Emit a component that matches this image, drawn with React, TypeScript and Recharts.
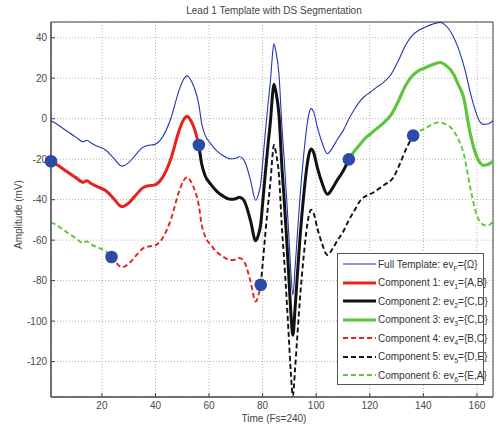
import React from 'react';
import { ComposedChart, Line, Scatter, XAxis, YAxis, CartesianGrid, ReferenceArea } from 'recharts';

// ---- data ----
const xTicks = [20, 40, 60, 80, 100, 120, 140, 160];
const yTicks = [-120, -100, -80, -60, -40, -20, 0, 20, 40];

const fullT = [1, 3, 6.6, 10.3, 13, 14.3, 16, 17.7, 21.5, 23.6, 24.6, 27.4, 30.2, 32.5, 35.1, 37, 39.5, 42.6, 45.7, 48.8, 50.5, 51.9, 53, 54.4, 56.2, 57.2, 58.5, 60.6, 63, 65, 68, 70, 71.2, 72.5, 73.6, 75.5, 77.4, 78.5, 79.3, 80, 81, 82, 83, 83.7, 84.2, 85, 86.1, 87.3, 87.9, 89, 89.8, 90.5, 91.3, 92.1, 92.9, 94, 95.4, 96.3, 97.3, 98.1, 99, 100.4, 102, 104.2, 106, 108, 110, 112.2, 114, 116.5, 118, 120.2, 122, 125.2, 128, 130.8, 133, 135.8, 138, 140.7, 143, 146.3, 148, 151.3, 153, 155.6, 157.5, 159.4, 161.2, 162.5, 164.3, 166];
const fullV = [-1, -2.5, -5.8, -9.1, -11.4, -10.6, -12, -13.2, -15.6, -18.3, -19.8, -23.4, -21.4, -18, -14.3, -13.2, -12.8, -9.1, 0, 14, 19.5, 21.2, 19.5, 15.6, 7, -2, -8, -12.3, -16, -18, -19.8, -19.5, -18.8, -19.5, -22, -30.5, -40.3, -37, -32, -22, -7, 7, 20, 32, 37, 33, 22, -6, -17, -40, -58, -75, -87, -74, -58.5, -38, -17, -6, 2.5, 5, 3.5, -4, -11, -17.3, -14.5, -10, -6, -0.1, 4.1, 9, 11, 13.1, 15, 18.1, 22, 29, 35.5, 41.1, 43.5, 45.2, 46.5, 47.6, 46.5, 40.3, 35, 23.9, 13, 4.1, -1.7, -2.8, -2.5, -1];

const comp1T = [1, 3, 6.6, 10.3, 13, 14.3, 16, 17.7, 21.5, 23.6, 24.6, 27.4, 30.2, 32.5, 35.1, 37, 39.5, 42.6, 45.7, 48.8, 50.5, 51.9, 53, 54.4, 56.2];
const comp1V = [-21, -22.5, -25.8, -29.1, -31.4, -30.6, -32, -33.2, -35.6, -38.3, -39.8, -43.4, -41.4, -38, -34.3, -33.2, -32.8, -29.1, -20, -6, -0.5, 1.2, -0.5, -4.4, -13];

const comp2T = [56.2, 57.2, 58.5, 60.6, 63, 65, 68, 70, 71.2, 72.5, 73.6, 75.5, 77.4, 78.5, 79.3, 80, 81, 82, 83, 83.7, 84.2, 85, 86.1, 87.3, 87.9, 89, 89.8, 90.5, 91.3, 92.1, 92.9, 94, 95.4, 96.3, 97.3, 98.1, 99, 100.4, 102, 104.2, 106, 108, 110, 112.2];
const comp2V = [-13, -22, -28, -32.3, -36, -38, -39.8, -39.5, -38.8, -39.5, -42, -50.5, -60.3, -57, -52, -42, -27, -13, 0, 12, 17, 13, 2, -26, -37, -60, -78.5, -95, -107, -94, -78.5, -58, -37, -26, -17.5, -15, -16.5, -24, -31, -37.3, -34.5, -30, -26, -20.1];

const comp3T = [112.2, 114, 116.5, 118, 120.2, 122, 125.2, 128, 130.8, 133, 135.8, 138, 140.7, 143, 146.3, 148, 151.3, 153, 155, 157.5, 160, 162.5, 164.3, 166];
const comp3V = [-20.1, -16.5, -12.5, -10, -7.5, -5.5, -2, 2, 9, 15.5, 21.1, 23.5, 25.2, 26.5, 27.8, 26.8, 22, 17, 10.7, -7.4, -19, -23, -22.5, -21];

const comp4T = [23.6, 24.6, 27.4, 30.2, 32.5, 35.1, 37, 39.5, 42.6, 45.7, 48.8, 50.5, 51.9, 53, 54.4, 56.2, 57.2, 58.5, 60.6, 63, 65, 68, 70, 71.2, 72.5, 73.6, 75.5, 77.4, 78.5, 79.3];
const comp4V = [-68.3, -69.8, -73.4, -71.4, -68, -64.3, -63.2, -62.8, -59.1, -50, -36, -30.5, -28.8, -30.5, -34.4, -43, -52, -58, -62.3, -66, -68, -69.8, -69.5, -68.8, -69.5, -72, -80.5, -90.3, -87, -82];

const comp5T = [79.3, 80, 81, 82, 83, 83.7, 84.2, 85, 86.1, 87.3, 87.9, 89, 89.8, 90.5, 91.3, 92.1, 92.9, 94, 95.4, 96.3, 97.3, 98.1, 99, 100.4, 102, 104.2, 106, 108, 110, 112.2, 114, 116.5, 121.5, 125.2, 128.9, 131, 133.9, 136.2];
const comp5V = [-82, -72, -57, -43, -30, -18, -13, -17, -28, -56, -67, -90, -108.5, -125, -137, -124, -108.5, -88, -67, -56, -47.5, -45, -46.5, -54, -61, -67.3, -64.5, -60, -56, -50.1, -46, -40.4, -36.3, -32.9, -28.8, -23, -14, -8.3];

const comp6aT = [1, 3, 6.6, 10.3, 13, 14.3, 16, 17.7, 21.5, 23.6];
const comp6aV = [-51, -52.5, -55.8, -59.1, -61.4, -60.6, -62, -63.2, -65.6, -68.3];
const comp6bT = [136.2, 138, 140.7, 143, 145.5, 148, 151.3, 153, 155, 157.5, 159.4, 161.2, 162.5, 164.3, 166];
const comp6bV = [-8.3, -6.5, -4.8, -3, -1.8, -2.5, -6, -10, -17, -34, -45.3, -51, -52.5, -52.7, -50.5];

const markerT = [1, 23.6, 56.2, 79.3, 112.2, 136.2];
const markerV = [-21, -68.3, -13, -82, -20.1, -8.3];

const zip = (t: number[], v: number[]) => t.map((x, i) => ({ t: x, v: v[i] }));

const BLUE = '#2435ad';
const RED = '#e8211d';
const BLACK = '#111111';
const GREEN = '#5fc53d';
const MARK = '#2c4aa8';

const FONT = 'Arial, "Liberation Sans", sans-serif';

type LegendItem = { color: string; width: number; dash?: string; label: string; sub: string; tail: string };
const legendItems: LegendItem[] = [
  { color: BLUE, width: 1.2, label: 'Full Template: ev', sub: 'F', tail: '={\u03A9}' },
  { color: RED, width: 3, label: 'Component 1: ev', sub: '1', tail: '={A,B}' },
  { color: BLACK, width: 3, label: 'Component 2: ev', sub: '2', tail: '={C,D}' },
  { color: GREEN, width: 3, label: 'Component 3: ev', sub: '3', tail: '={C,D}' },
  { color: RED, width: 1.8, dash: '5 3', label: 'Component 4: ev', sub: '4', tail: '={B,C}' },
  { color: BLACK, width: 1.8, dash: '5 3', label: 'Component 5: ev', sub: '5', tail: '={D,E}' },
  { color: GREEN, width: 1.8, dash: '5 3', label: 'Component 6: ev', sub: '6', tail: '={E,A}' },
];

const tickStyle = { fontSize: 10, fill: '#4a4a4a', fontFamily: FONT };

export default function App() {
  const dashW = 1.9;
  return (
    <div style={{ position: 'absolute', left: 0, top: 0, width: 497, height: 425, background: '#fff', fontFamily: FONT }}>
      <ComposedChart width={497} height={425} margin={{ top: 22, right: 4, bottom: 8, left: 11 }}>
        <CartesianGrid stroke="#a0a0a0" strokeDasharray="1 2" strokeWidth={0.8} />
        <XAxis
          dataKey="t"
          type="number"
          domain={[1, 166]}
          ticks={xTicks}
          height={20}
          tickSize={-4}
          tickMargin={9}
          tickLine={{ stroke: '#444' }}
          axisLine={{ stroke: '#444' }}
          tick={tickStyle}
        />
        <YAxis
          dataKey="v"
          type="number"
          domain={[-137.5, 47.8]}
          ticks={yTicks}
          width={40}
          tickSize={-4}
          tickMargin={8}
          tickLine={{ stroke: '#444' }}
          axisLine={{ stroke: '#444' }}
          tick={tickStyle}
        />
        <ReferenceArea x1={1} x2={166} y1={-137.5} y2={47.8} fill="none" stroke="#444" strokeWidth={1} />
        <Line data={zip(fullT, fullV)} dataKey="v" type="monotone" stroke={BLUE} strokeWidth={1.1} dot={false} isAnimationActive={false} />
        <Line data={zip(comp1T, comp1V)} dataKey="v" type="monotone" stroke={RED} strokeWidth={3} dot={false} isAnimationActive={false} />
        <Line data={zip(comp2T, comp2V)} dataKey="v" type="monotone" stroke={BLACK} strokeWidth={3} dot={false} isAnimationActive={false} />
        <Line data={zip(comp3T, comp3V)} dataKey="v" type="monotone" stroke={GREEN} strokeWidth={3.2} dot={false} isAnimationActive={false} />
        <Line data={zip(comp4T, comp4V)} dataKey="v" type="monotone" stroke={RED} strokeWidth={dashW} strokeDasharray="5 3" dot={false} isAnimationActive={false} />
        <Line data={zip(comp5T, comp5V)} dataKey="v" type="monotone" stroke={BLACK} strokeWidth={dashW} strokeDasharray="5 3" dot={false} isAnimationActive={false} />
        <Line data={zip(comp6aT, comp6aV)} dataKey="v" type="monotone" stroke={GREEN} strokeWidth={dashW} strokeDasharray="5 3" dot={false} isAnimationActive={false} />
        <Line data={zip(comp6bT, comp6bV)} dataKey="v" type="monotone" stroke={GREEN} strokeWidth={dashW} strokeDasharray="5 3" dot={false} isAnimationActive={false} />
        <Scatter
          data={zip(markerT, markerV)}
          dataKey="v"
          isAnimationActive={false}
          shape={(p: any) => <circle cx={p.cx} cy={p.cy} r={6.3} fill={MARK} />}
        />
      </ComposedChart>

      <div style={{ position: 'absolute', left: 0, width: 548, top: 4, textAlign: 'center', fontSize: 10, color: '#444', lineHeight: '13px' }}>
        Lead 1 Template with DS Segmentation
      </div>
      <div style={{ position: 'absolute', left: 0, width: 548, top: 412, textAlign: 'center', fontSize: 10, color: '#444', lineHeight: '13px' }}>
        Time (Fs=240)
      </div>
      <div
        style={{
          position: 'absolute', left: 18, top: 214, width: 120, height: 13, marginLeft: -60, marginTop: -6.5,
          textAlign: 'center', fontSize: 10, color: '#444', lineHeight: '13px', transform: 'rotate(-90deg)',
        }}
      >
        Amplitude (mV)
      </div>

      <div
        style={{
          position: 'absolute', left: 337, top: 253, width: 147, height: 132, background: '#fff',
          border: '1px solid #555', boxSizing: 'border-box', paddingTop: 1,
        }}
      >
        {legendItems.map((it, i) => (
          <div key={i} style={{ height: 18.5, display: 'flex', alignItems: 'center', fontSize: 10, color: '#333', whiteSpace: 'nowrap' }}>
            <svg width={40} height={10} style={{ flex: 'none' }}>
              <line x1={5} x2={38} y1={5} y2={5} stroke={it.color} strokeWidth={it.width} strokeDasharray={it.dash} />
            </svg>
            <span style={{ marginLeft: 0 }}>
              {it.label}
              <span style={{ fontSize: 7, position: 'relative', top: 3 }}>{it.sub}</span>
              {it.tail}
            </span>
          </div>
        ))}
      </div>
    </div>
  );
}
